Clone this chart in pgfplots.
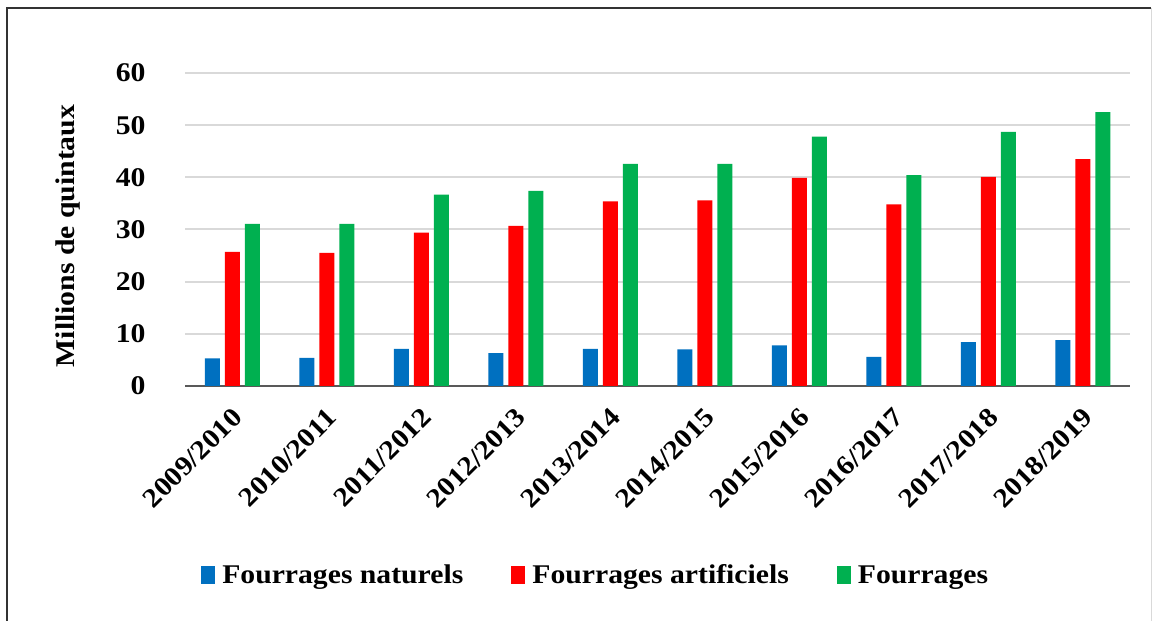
\documentclass[border=0pt]{standalone}
\usepackage{fontspec}
\setmainfont{Liberation Serif}[FakeStretch=1.1]
\usepackage{pgfplots}
\pgfplotsset{compat=1.18}

\definecolor{natblue}{RGB}{0,112,192}
\definecolor{artred}{RGB}{255,0,0}
\definecolor{fougreen}{RGB}{0,176,80}
\newcommand\lblfont{\fontsize{27bp}{31bp}\selectfont\bfseries}

\begin{document}
\begin{tikzpicture}
% page and frame
\useasboundingbox (0bp,0bp) rectangle (1155bp,621bp);
\fill[white] (0bp,0bp) rectangle (1155bp,621bp);
\draw[line width=2.5bp, black!80] (7bp,0bp) -- (7bp,613bp) -- (1151bp,613bp);
\draw[line width=1bp, black!15] (1151bp,613bp) -- (1151bp,0bp);

\begin{axis}[
  at={(185bp,235bp)}, anchor=south west,
  scale only axis, width=945bp, height=313bp,
  ybar,
  ymin=0, ymax=60, ytick={0,10,...,60},
  xmin=-0.5, xmax=9.5, xtick={0,...,9},
  xticklabels={2009/2010,2010/2011,2011/2012,2012/2013,2013/2014,2014/2015,2015/2016,2016/2017,2017/2018,2018/2019},
  major tick length=0pt,
  ymajorgrids, grid style={line width=2bp, black!15},
  axis x line*=bottom, axis y line*=left,
  x axis line style={line width=2bp, black!65},
  y axis line style={draw=none},
  /pgf/number format/assume math mode=true,
  tick label style={font=\lblfont},
  yticklabel style={anchor=east, xshift=-36bp},
  xticklabel style={rotate=45, anchor=east, yshift=-23bp, xshift=-12bp},
  ylabel={Millions de quintaux},
  ylabel style={font=\lblfont, at={(axis description cs:-0.124,0.479)}, anchor=center},
  legend columns=3,
  legend style={at={(axis description cs:0.017,-0.604)}, anchor=west,
    draw=none, fill=none, inner sep=0pt, font=\lblfont,
    /tikz/every odd column/.append style={column sep=5bp},
    /tikz/every even column/.append style={column sep=46bp}},
  legend image code/.code={\fill[#1] (0bp,-9bp) rectangle (14bp,9bp);},
]
\addplot[bar width=15bp, bar shift=-20bp, fill=natblue, draw=none]
  coordinates {(0,5.3) (1,5.4) (2,7.1) (3,6.3) (4,7.1) (5,7.0) (6,7.8) (7,5.6) (8,8.4) (9,8.8)};
\addplot[bar width=15bp, bar shift=0bp, fill=artred, draw=none]
  coordinates {(0,25.7) (1,25.5) (2,29.4) (3,30.7) (4,35.4) (5,35.6) (6,39.9) (7,34.8) (8,40.1) (9,43.5)};
\addplot[bar width=15bp, bar shift=20bp, fill=fougreen, draw=none]
  coordinates {(0,31.1) (1,31.1) (2,36.7) (3,37.4) (4,42.6) (5,42.6) (6,47.8) (7,40.4) (8,48.7) (9,52.5)};
\legend{Fourrages naturels, Fourrages artificiels, Fourrages}
\end{axis}
\end{tikzpicture}
\end{document}
